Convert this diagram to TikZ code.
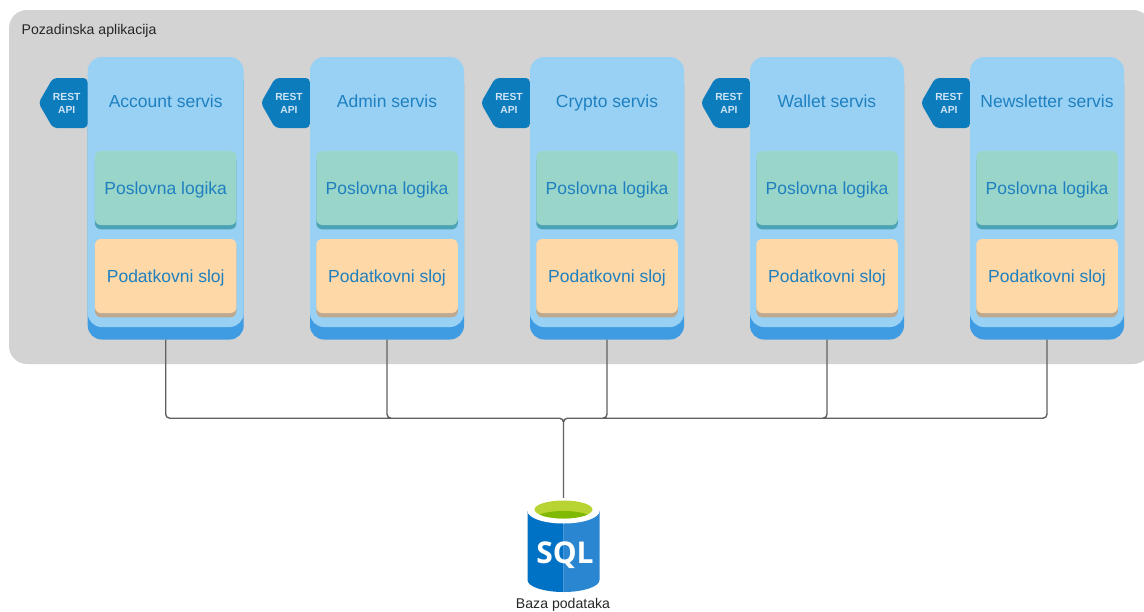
\documentclass[tikz,border=0pt]{standalone}
\usepackage{fontspec}
\setmainfont{Liberation Sans}
\newfontfamily\sqlfont{Open Sans}
\usetikzlibrary{shapes.symbols,shadows}

\definecolor{panelgray}{HTML}{D3D3D3}
\definecolor{servislight}{HTML}{99D1F5}
\definecolor{servisdark}{HTML}{3F9CE3}
\definecolor{logikalight}{HTML}{9AD5C9}
\definecolor{logikadark}{HTML}{4BA3B5}
\definecolor{slojlight}{HTML}{FED8A7}
\definecolor{slojdark}{HTML}{BDA98F}
\definecolor{tagblue}{HTML}{0D7CBD}
\definecolor{tagtext}{HTML}{CFE4F5}
\definecolor{labelblue}{HTML}{1F80C0}
\definecolor{wiregray}{HTML}{606060}
\definecolor{dbleft}{HTML}{0072C6}
\definecolor{dbright}{HTML}{2A86D0}
\definecolor{dbgreen}{HTML}{B8D432}
\definecolor{dbgreendark}{HTML}{7FBA00}

\newcommand{\resttekst}{REST\hspace*{7pt}\\API\hspace*{7pt}}

\tikzset{
    servis/.style={rectangle, inner sep=0pt, rounded corners=14pt, fill=servislight, minimum width=154pt, minimum height=270pt,
        general shadow={fill=servisdark, shadow yshift=-12.5pt}},
    naslov/.style={inner sep=0pt, text depth=0pt, text=labelblue, font=\fontsize{17.5}{20}\selectfont},
    logika/.style={naslov, rectangle, rounded corners=6pt, fill=logikalight, minimum width=141.5pt, minimum height=74pt,
        general shadow={fill=logikadark, shadow yshift=-4.3pt}},
    sloj/.style={naslov, rectangle, rounded corners=6pt, fill=slojlight, minimum width=141.5pt, minimum height=74pt,
        general shadow={fill=slojdark, shadow yshift=-4.3pt}},
    rest/.style={signal, signal from=nowhere, signal to=west, signal pointer angle=120, anchor=east, inner sep=0pt,
        rounded corners=4pt, fill=tagblue, text=tagtext, minimum width=49pt, minimum height=50pt,
        align=center, font=\fontsize{10.3}{13}\selectfont\bfseries},
    veza/.style={draw=wiregray, line width=1.4pt, rounded corners=4pt},
    mali/.style={inner sep=0pt, text=black!85, font=\fontsize{14.1}{16}\selectfont},
}

\begin{document}
\begin{tikzpicture}[x=1pt,y=-1pt]
    \path[clip,use as bounding box] (0,0) rectangle (1144,611);
    \node [rectangle, inner sep=0pt, rounded corners=18pt, fill=panelgray, minimum width=1142pt, minimum height=354pt] (panel) at (580,187) {};
    \node [mali, anchor=west] (panelnaslov) at (21.5,30.5) {Pozadinska aplikacija};

    \path
    (165.7,192) node [servis, minimum width=156pt] (account) {}
    (87.7,103) node [rest] (accountrest) {\resttekst}
    (165.7,101.5) node [naslov] (accountnaslov) {Account servis}
    (165.7,188) node [logika] (accountlogika) {Poslovna logika}
    (165.7,276) node [sloj] (accountsloj) {Podatkovni sloj};

    \path
    (387,192) node [servis] (admin) {}
    (310,103) node [rest] (adminrest) {\resttekst}
    (387,101.5) node [naslov] (adminnaslov) {Admin servis}
    (387,188) node [logika] (adminlogika) {Poslovna logika}
    (387,276) node [sloj] (adminsloj) {Podatkovni sloj};

    \path
    (607,192) node [servis] (crypto) {}
    (530,103) node [rest] (cryptorest) {\resttekst}
    (607,101.5) node [naslov] (cryptonaslov) {Crypto servis}
    (607,188) node [logika] (cryptologika) {Poslovna logika}
    (607,276) node [sloj] (cryptosloj) {Podatkovni sloj};

    \path
    (827,192) node [servis] (wallet) {}
    (750,103) node [rest] (walletrest) {\resttekst}
    (827,101.5) node [naslov] (walletnaslov) {Wallet servis}
    (827,188) node [logika] (walletlogika) {Poslovna logika}
    (827,276) node [sloj] (walletsloj) {Podatkovni sloj};

    \path
    (1047,192) node [servis] (newsletter) {}
    (970,103) node [rest] (newsletterrest) {\resttekst}
    (1047,101.5) node [naslov] (newsletternaslov) {Newsletter servis}
    (1047,188) node [logika] (newsletterlogika) {Poslovna logika}
    (1047,276) node [sloj] (newslettersloj) {Podatkovni sloj};

    % baza
    \fill[dbleft] (527.5,511) -- (527.5,580) arc[start angle=180, end angle=90, x radius=36, y radius=12] -- (563.5,511) -- cycle;
    \fill[dbright] (599.5,511) -- (599.5,580) arc[start angle=0, end angle=90, x radius=36, y radius=12] -- (563.5,511) -- cycle;
    \fill[white] (563.5,511) ellipse[x radius=36, y radius=12.5];
    \fill[dbgreen] (563.5,509.5) ellipse[x radius=29, y radius=9];
    \begin{scope}
        \clip (563.5,509.5) ellipse[x radius=29, y radius=9];
        \fill[dbgreendark] (563.5,519) ellipse[x radius=29, y radius=8];
    \end{scope}
    \node [inner sep=0pt, minimum width=72pt, minimum height=95pt, text=white, text height=36pt, text depth=0pt, font=\sqlfont\fontsize{30}{31}\selectfont\bfseries] (baza) at (563.5,545.5) {\hspace*{3pt}SQL};
    \node [mali] (bazanaslov) at (563,605) {Baza podataka};

    \draw[veza]
    ([yshift=-12.5pt]account.south) -- ++(0,78.5) -| (baza.north)
    ([yshift=-12.5pt]admin.south) -- ++(0,78.5) -| (baza.north)
    ([yshift=-12.5pt]crypto.south) -- ++(0,78.5) -| (baza.north)
    ([yshift=-12.5pt]wallet.south) -- ++(0,78.5) -| (baza.north)
    ([yshift=-12.5pt]newsletter.south) -- ++(0,78.5) -| (baza.north);
\end{tikzpicture}
\end{document}
